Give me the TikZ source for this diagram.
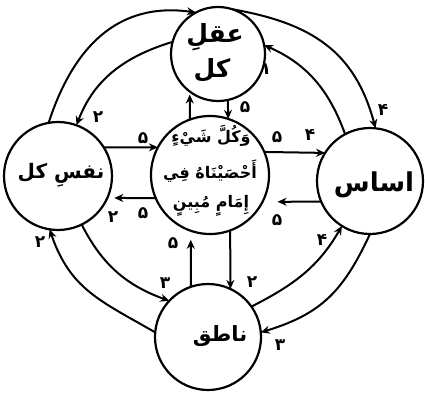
\documentclass[tikz,border=0pt]{standalone}
\usepackage{fontspec}
\usetikzlibrary{arrows.meta}
\TeXXeTstate=1
\newfontfamily\ar[Script=Arabic]{DejaVu Sans}
\begin{document}
\begin{tikzpicture}[x=1pt,y=1pt,
  circ/.style={circle,draw,line width=2.2pt,inner sep=0pt,outer sep=0pt},
  arr/.style={line width=2pt,-{Stealth[length=9pt,width=8pt]}},
  num/.style={font=\ar\bfseries\fontsize{17}{17}\selectfont,inner sep=0pt},
  lbl/.style={font=\ar\bfseries\fontsize{25}{27}\selectfont,inner sep=0pt},
  vers/.style={font=\ar\bfseries\fontsize{16}{17}\selectfont,inner sep=0pt}]
\useasboundingbox (0,0) rectangle (425,392);
% circles
\node[circ,minimum size=94pt]  (T) at (218,338) {};
\node[circ,minimum size=118pt] (M) at (210,217) {};
\node[circ,minimum size=108pt] (L) at (58,216) {};
\node[circ,minimum size=106pt] (R) at (370,211) {};
\node[circ,minimum size=106pt] (B) at (208,55) {};
% texts
\node[lbl] (Tt1) at (215,355) {\beginR عقلِ\endR};
\node[lbl] (Tt2) at (212,322) {\beginR کل\endR};
\node[lbl,font=\ar\bfseries\fontsize{20}{22}\selectfont] (Lt) at (61,217) {\beginR نفسِ کل\endR};
\node[lbl,font=\ar\bfseries\fontsize{26}{28}\selectfont] (Rt) at (374,207) {\beginR اساس\endR};
\node[lbl,font=\ar\bfseries\fontsize{21}{23}\selectfont] (Bt) at (220,56) {\beginR ناطق\endR};
\node[vers] (Mt1) at (211,256) {\beginR وَكُلَّ شَيْءٍ\endR};
\node[vers] (Mt2) at (210,221) {\beginR أَحْصَيْنَاهُ فِي\endR};
\node[vers] (Mt3) at (211,186) {\beginR إِمَامٍ مُبِينٍ\endR};
% outer and inner arcs
\draw[arr] (L.100) to[out=72,in=172,looseness=1.1] (T.118);
\draw[arr] (T.165) to[out=197,in=69] (L.70);
\draw[arr] (T.72) to[out=-10,in=105,looseness=1.1] (R.84);
\draw[arr] (R.118) to[out=110,in=-24] (T.11);
\draw[arr] (R.-90) to[out=245,in=17,looseness=1.1] (B.5);
\draw[arr] (B.35) to[out=27,in=240] (R.238);
\draw[arr] (B.175) to[out=150,in=-71,looseness=1.1] (L.261);
\draw[arr] (L.-64) to[out=-63,in=160] (B.137);
% straight arrows
\draw[arr,shorten >=3pt] (M.110) -- (T.-127);
\draw[arr] (T.-78) -- (M.72);
\draw[arr] (L.32) -- (M.152);
\draw[arr,shorten >=7pt] (M.203) -- (L.-24);
\draw[arr] (M.23) -- (R.148);
\draw[arr,shorten >=15pt] (R.203) -- (M.-27);
\draw[arr,shorten >=9pt] (B.109) -- (M.-109);
\draw[arr] (M.-70) -- (B.65);
% numbers
\node[num] (n1) at (266,323) {۱};
\node[num] (n2) at (98,275) {۲};
\node[num] (n3) at (383,282) {۴};
\node[num] (n4) at (245,285) {۵};
\node[num] (n5) at (143,254) {۵};
\node[num] (n6) at (277,255) {۵};
\node[num] (n7) at (310,257) {۴};
\node[num] (n8) at (113,175) {۲};
\node[num] (n9) at (143,179) {۵};
\node[num] (n10) at (277,172) {۵};
\node[num] (n11) at (40,150) {۲};
\node[num] (n12) at (173,149) {۵};
\node[num] (n13) at (165,109) {۳};
\node[num] (n14) at (252,110) {۲};
\node[num] (n15) at (322,152) {۴};
\node[num] (n16) at (280,47) {۳};
\end{tikzpicture}
\end{document}
